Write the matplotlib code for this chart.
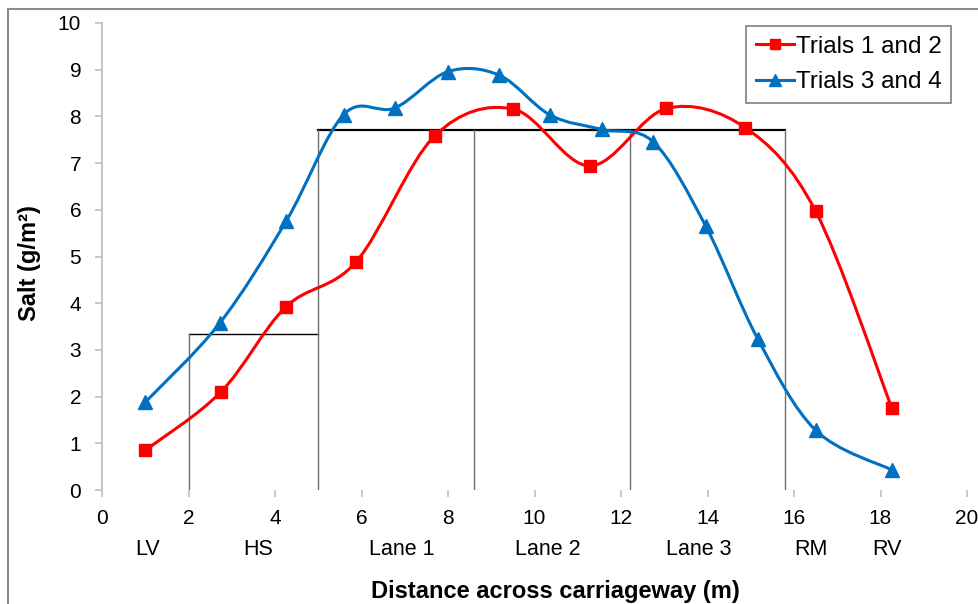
import matplotlib
matplotlib.use('Agg')
import matplotlib.pyplot as plt
import numpy as np
from matplotlib.path import Path
from matplotlib.patches import PathPatch
from matplotlib.lines import Line2D
import matplotlib.transforms as mtransforms

plt.rcParams['font.family'] = ['Liberation Sans', 'DejaVu Sans']

# data
x_trial12 = [1.0, 2.75, 4.25, 5.88, 7.69, 9.5, 11.28, 13.05, 14.87, 16.5, 18.26]
y_trial12 = [0.85, 2.1, 3.92, 4.89, 7.58, 8.16, 6.94, 8.17, 7.76, 5.97, 1.76]

x_trial34 = [1.0, 2.72, 4.26, 5.59, 6.77, 8.0, 9.19, 10.36, 11.56, 12.75, 13.96, 15.16, 16.5, 18.26]
y_trial34 = [1.88, 3.57, 5.76, 8.04, 8.18, 8.96, 8.88, 8.03, 7.72, 7.45, 5.65, 3.24, 1.28, 0.43]

# carriageway layout (m) and zone labels
hs_edges = [2.0, 5.0]
hs_height = 3.35
lane_edges = [5.0, 8.6, 12.2, 15.8]
lane_height = 7.7
zone_names = ['LV', 'HS', 'Lane 1', 'Lane 2', 'Lane 3', 'RM', 'RV']
zone_pos = [1.06, 3.6, 6.93, 10.3, 13.8, 16.4, 18.15]

red = '#FF0000'
blue = '#0070C0'


def smooth_path(xs, ys):
    # Excel-like smoothed line: Catmull-Rom converted to cubic Bezier
    p = np.column_stack([xs, ys]).astype(float)
    pts = np.vstack([p[0], p, p[-1]])
    verts = [p[0]]
    codes = [Path.MOVETO]
    for i in range(1, len(pts) - 2):
        p0, p1, p2, p3 = pts[i - 1], pts[i], pts[i + 1], pts[i + 2]
        c1 = p1 + (p2 - p0) / 6.0
        c2 = p2 - (p3 - p1) / 6.0
        verts += [c1, c2, p2]
        codes += [Path.CURVE4] * 3
    return Path(verts, codes)


fig = plt.figure(figsize=(9.79, 6.04), dpi=100)
ax = fig.add_axes([102 / 979, 1 - 490 / 604, 865 / 979, 467 / 604])

# lane layout lines
ax.plot(hs_edges, [hs_height, hs_height], color='black', lw=1.0, zorder=1)
ax.plot([hs_edges[0], hs_edges[0]], [0, hs_height], color='#6e6e6e', lw=1.0, zorder=1)
ax.plot([lane_edges[0], lane_edges[-1]], [lane_height, lane_height], color='black', lw=1.6, zorder=1)
for xe in lane_edges:
    ax.plot([xe, xe], [0, lane_height], color='#6e6e6e', lw=1.0, zorder=1)

# smoothed series
ax.add_patch(PathPatch(smooth_path(x_trial12, y_trial12), fill=False, edgecolor=red, lw=2.2, zorder=3))
ax.plot(x_trial12, y_trial12, linestyle='none', marker='s', ms=8, color=red, zorder=4)
ax.add_patch(PathPatch(smooth_path(x_trial34, y_trial34), fill=False, edgecolor=blue, lw=2.2, zorder=3))
ax.plot(x_trial34, y_trial34, linestyle='none', marker='^', ms=9.5, color=blue, zorder=4)

ax.set_xlim(0, 20)
ax.set_ylim(0, 10)
ax.set_xticks(np.arange(0, 21, 2))
ax.set_yticks(np.arange(0, 11, 1))

for s in ['top', 'right', 'bottom']:
    ax.spines[s].set_visible(False)
ax.spines['left'].set_color('#bfbfbf')
ax.spines['left'].set_linewidth(1.3)
ax.tick_params(axis='both', colors='#bfbfbf', labelcolor='black', labelsize=15,
               length=5, width=1.2, direction='out')
ax.tick_params(axis='x', pad=9)
ax.tick_params(axis='y', pad=10)

ax.set_ylabel('Salt (g/m²)', fontsize=17, fontweight='bold')
ax.yaxis.set_label_coords(-0.07, 0.485)
ax.set_xlabel('Distance across carriageway (m)', fontsize=17, fontweight='bold')
ax.xaxis.set_label_coords(0.524, -0.193)

trans = mtransforms.blended_transform_factory(ax.transData, ax.transAxes)
for name, xp in zip(zone_names, zone_pos):
    ax.text(xp, -0.128, name, transform=trans, ha='center', va='center', fontsize=15.5)

handles = [
    Line2D([], [], color=red, lw=2.2, marker='s', ms=7),
    Line2D([], [], color=blue, lw=2.2, marker='^', ms=8),
]
leg = ax.legend(handles, ['Trials 1 and 2', 'Trials 3 and 4'], loc='upper right',
                bbox_to_anchor=(951 / 979, 1 - 26 / 604), bbox_transform=fig.transFigure,
                borderaxespad=0, fontsize=17.5, fancybox=False, handlelength=1.55,
                handletextpad=0.08, borderpad=0.4, labelspacing=0.55, framealpha=1)
leg.get_frame().set_edgecolor('#7f7f7f')
leg.get_frame().set_linewidth(1.2)

# chart area border (left and top visible)
fig.add_artist(Line2D([8.5 / 979, 8.5 / 979], [0, 1 - 9 / 604], transform=fig.transFigure,
                      color='#8c8c8c', lw=1.5))
fig.add_artist(Line2D([8.5 / 979, 1], [1 - 9 / 604, 1 - 9 / 604], transform=fig.transFigure,
                      color='#8c8c8c', lw=1.5))

fig.savefig('out.png', dpi=100)
